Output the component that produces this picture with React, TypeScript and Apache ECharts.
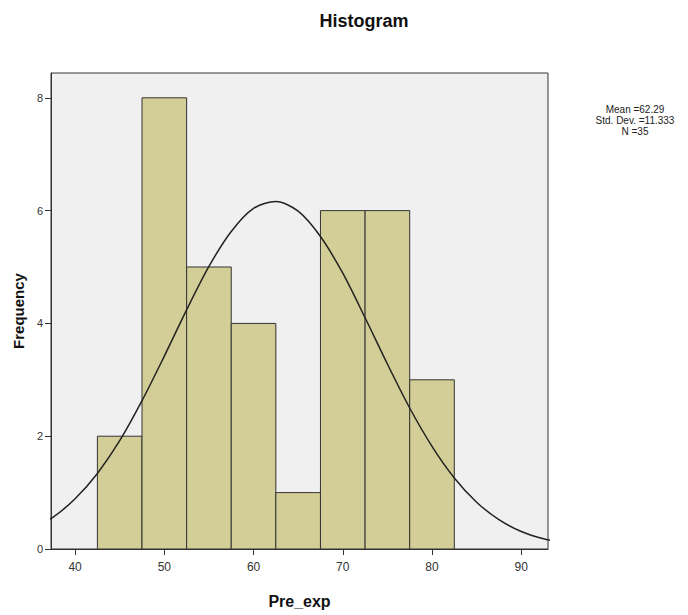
import React, { useEffect, useRef } from "react";
import * as echarts from "echarts";

const binStart = [42.5, 47.5, 52.5, 57.5, 62.5, 67.5, 72.5, 77.5];
const binEnd = [47.5, 52.5, 57.5, 62.5, 67.5, 72.5, 77.5, 82.5];
const counts = [2, 8, 5, 4, 1, 6, 6, 3];

const curveX = [35, 37.5, 40, 42.5, 45, 47.5, 50, 52.5, 55, 57.5, 60, 62.5, 65, 67.5, 70, 72.5, 75, 77.5, 80, 82.5, 85, 87.5, 90, 92.5, 95];
const curveY = [0.34, 0.56, 0.89, 1.34, 1.92, 2.63, 3.42, 4.24, 5.01, 5.63, 6.04, 6.16, 5.99, 5.54, 4.89, 4.1, 3.28, 2.5, 1.82, 1.26, 0.83, 0.52, 0.31, 0.18, 0.1];

const xTicks = [40, 50, 60, 70, 80, 90];
const yTicks = [0, 2, 4, 6, 8];
const statsLines = ["Mean =62.29", "Std. Dev. =11.333", "N =35"];

const FONT = "'Liberation Sans', Arial, sans-serif";

export default function App() {
  const ref = useRef<HTMLDivElement>(null);
  useEffect(() => {
    if (!ref.current) return;
    const chart = echarts.init(ref.current, undefined, { renderer: "svg" });
    const barData = binStart.map((s, i) => [s, binEnd[i], counts[i]]);
    const lineData = curveX.map((x, i) => [x, curveY[i]]);
    chart.setOption({
      animation: false,
      backgroundColor: "#ffffff",
      title: {
        text: "Histogram",
        left: 359,
        top: 7,
        textAlign: "center",
        textStyle: { fontFamily: FONT, fontSize: 18, fontWeight: "bold", color: "#111" },
      },
      grid: {
        left: 51,
        top: 73,
        width: 497,
        height: 476,
        show: true,
        backgroundColor: "#f0f0f0",
        borderColor: "#333",
        borderWidth: 1,
      },
      xAxis: {
        type: "value",
        min: 37.3,
        max: 93,
        name: "Pre_exp",
        nameLocation: "middle",
        nameGap: 52,
        nameTextStyle: { fontFamily: FONT, fontSize: 16, fontWeight: "bold", color: "#111", verticalAlign: "middle" },
        axisLine: { show: true, onZero: false, lineStyle: { color: "#333", width: 1 } },
        axisTick: { show: true, customValues: xTicks, length: 6, lineStyle: { color: "#333" } },
        axisLabel: { customValues: xTicks, margin: 12, fontFamily: FONT, fontSize: 12, color: "#333" },
        splitLine: { show: false },
      },
      yAxis: {
        type: "value",
        min: 0,
        max: 8.44,
        name: "Frequency",
        nameLocation: "middle",
        nameGap: 31,
        nameRotate: 90,
        nameTextStyle: { fontFamily: FONT, fontSize: 15, fontWeight: "bold", color: "#111", verticalAlign: "middle" },
        axisLine: { show: true, lineStyle: { color: "#333", width: 1 } },
        axisTick: { show: true, customValues: yTicks, length: 6, lineStyle: { color: "#333" } },
        axisLabel: { customValues: yTicks, margin: 8, fontFamily: FONT, fontSize: 11, color: "#333" },
        splitLine: { show: false },
      },
      graphic: statsLines.map((t, i) => ({
        type: "text",
        x: 635,
        y: 109 + i * 11,
        style: {
          text: t,
          font: `10px ${FONT}`,
          fill: "#222",
          textAlign: "center",
          textVerticalAlign: "middle",
        },
      })),
      series: [
        {
          type: "custom",
          data: barData,
          encode: { x: [0, 1], y: 2 },
          z: 2,
          renderItem: (params: any, api: any) => {
            const p0 = api.coord([api.value(0), 0]);
            const p1 = api.coord([api.value(1), api.value(2)]);
            return {
              type: "rect",
              shape: { x: p0[0], y: p1[1], width: p1[0] - p0[0], height: p0[1] - p1[1] },
              style: { fill: "#d3ce98", stroke: "#333", lineWidth: 1 },
            };
          },
        },
        {
          type: "line",
          data: lineData,
          smooth: 0.3,
          showSymbol: false,
          clip: true,
          z: 3,
          lineStyle: { color: "#222", width: 1.5 },
        },
      ],
    });
    return () => chart.dispose();
  }, []);
  return <div ref={ref} style={{ position: "absolute", left: 0, top: 0, width: 688, height: 615 }} />;
}
